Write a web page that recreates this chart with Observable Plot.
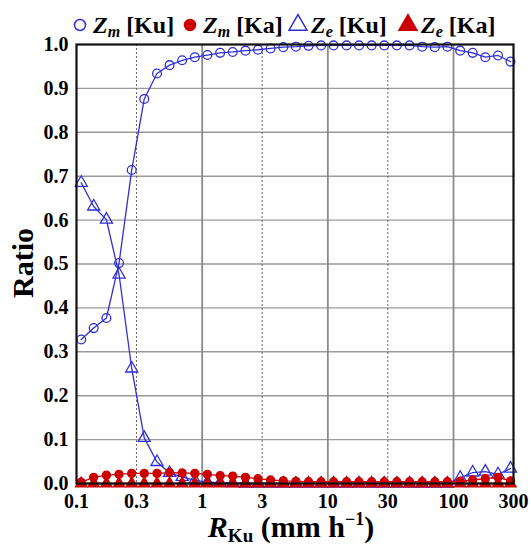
<!DOCTYPE html>
<html>
<head>
<meta charset="utf-8">
<script src="https://cdn.jsdelivr.net/npm/d3@7"></script>
<script src="https://cdn.jsdelivr.net/npm/@observablehq/plot@0.6"></script>
<style>
  body { margin: 0; background: white; }
  #wrap { position: relative; width: 531px; }
  #legend { display: block; position: relative; z-index: 2; overflow: visible; }
  #chart { position: relative; z-index: 1; }
</style>
</head>
<body>
<div id="wrap">
  <svg id="legend" width="531" height="30"></svg>
  <div id="chart"></div>
</div>
<script>
// Rain-rate bins (mm/h, Ku-band retrieval)
const rain = [0.109, 0.137, 0.173, 0.218, 0.275, 0.346, 0.437, 0.550, 0.693, 0.874,
              1.10, 1.39, 1.75, 2.21, 2.78, 3.50, 4.42, 5.57, 7.02, 8.84,
              11.1, 14.1, 17.7, 22.3, 28.1, 35.4, 44.7, 56.3, 71.0, 89.4,
              113, 142, 179, 226, 284];

// Ratio of each regime in every bin
const zmKu = [0.328, 0.354, 0.377, 0.502, 0.714, 0.876, 0.934, 0.953, 0.964, 0.971,
              0.976, 0.981, 0.983, 0.986, 0.988, 0.991, 0.994, 0.995, 0.997, 0.998,
              0.998, 0.998, 0.998, 0.998, 0.998, 0.998, 0.998, 0.995, 0.994, 0.995,
              0.986, 0.981, 0.971, 0.975, 0.961];
const zmKa = [0.003, 0.014, 0.019, 0.021, 0.023, 0.023, 0.023, 0.025, 0.024, 0.023,
              0.021, 0.018, 0.017, 0.014, 0.011, 0.008, 0.006, 0.005, 0.004, 0.004,
              0.004, 0.004, 0.004, 0.004, 0.004, 0.004, 0.004, 0.004, 0.004, 0.004,
              0.005, 0.008, 0.011, 0.014, 0.006];
const zeKu = [0.685, 0.631, 0.601, 0.476, 0.262, 0.104, 0.049, 0.024, 0.015, 0.007,
              0.003, 0.002, 0.001, 0, 0, 0, 0, 0, 0, 0,
              0, 0, 0, 0, 0, 0, 0, 0, 0, 0,
              0.013, 0.025, 0.027, 0.021, 0.034];
const zeKa = [0, 0, 0, 0, 0, 0, 0, 0, 0, 0,
              0, 0, 0, 0, 0, 0, 0, 0, 0, 0,
              0, 0, 0, 0, 0, 0, 0, 0, 0, 0,
              0, 0, 0, 0, 0];

const xTicks = [0.1, 0.3, 1, 3, 10, 30, 100, 300];
const xTickLabels = ["0.1", "0.3", "1", "3", "10", "30", "100", "300"];
const xMajor = [1, 10, 100];
const xMinor = [0.3, 3, 30];
const yTicks = [0, 0.1, 0.2, 0.3, 0.4, 0.5, 0.6, 0.7, 0.8, 0.9, 1.0];

const blue = "#2f2fd8";
const red = "#cc0000";
const serif = "Liberation Serif";

const series = [
  {key: "zmKu", values: zmKu, color: blue, symbol: "circle",   filled: false, r: 4.4, sub: "m", band: "Ku"},
  {key: "zmKa", values: zmKa, color: red,  symbol: "circle",   filled: true,  r: 4.0, sub: "m", band: "Ka"},
  {key: "zeKu", values: zeKu, color: blue, symbol: "triangle", filled: false, r: 4.5, sub: "e", band: "Ku"},
  {key: "zeKa", values: zeKa, color: red,  symbol: "triangle", filled: true,  r: 4.2, sub: "e", band: "Ka"}
];

const rowsOf = s => rain.map((x, i) => ({x, y: s.values[i]}));
const xLabelRows = xTicks.map((v, i) => ({v, label: xTickLabels[i]}));

const marks = [
  Plot.gridY(yTicks.slice(1, -1), {stroke: "#9a9a9a", strokeOpacity: 1, strokeWidth: 1.4}),
  Plot.gridX(xMajor, {stroke: "#8a8a8a", strokeOpacity: 1, strokeWidth: 1.8}),
  Plot.gridX(xMinor, {stroke: "#555", strokeOpacity: 1, strokeWidth: 0.9, strokeDasharray: "2,2"}),
  // x tick labels
  Plot.text(xLabelRows, {x: "v", text: "label", frameAnchor: "bottom", dy: 24,
    fontFamily: serif, fontWeight: "bold", fontSize: 20, fill: "black"}),
  Plot.axisY(yTicks, {tickSize: 0, tickPadding: 8, fontSize: 20, fontWeight: "bold",
    fontFamily: serif, fill: "black", tickFormat: d3.format(".1f"), label: null})
];

// Blue series underneath, red series on top
for (const s of [series[0], series[2], series[1], series[3]]) {
  const rows = rowsOf(s);
  marks.push(Plot.line(rows, {x: "x", y: "y", stroke: s.color, strokeWidth: 1.3}));
  marks.push(Plot.dot(rows, {
    x: "x", y: "y", symbol: s.symbol, r: s.r,
    stroke: s.color, strokeWidth: 1.3,
    fill: s.filled ? s.color : "none"
  }));
}
marks.push(Plot.frame({stroke: "#111", strokeWidth: 2.2}));

const chart = Plot.plot({
  width: 531,
  height: 517,
  marginLeft: 76,
  marginRight: 18,
  marginTop: 14,
  marginBottom: 64,
  style: {background: "transparent"},
  x: {type: "log", domain: [0.1, 300], axis: null},
  y: {domain: [0, 1]},
  marks
});

// Axis titles with sub/superscripts
const svg = d3.select(chart);
const xt = svg.append("text")
  .attr("x", 291).attr("y", 507)
  .attr("text-anchor", "middle")
  .attr("font-family", serif).attr("font-weight", "bold").attr("font-size", 30)
  .attr("fill", "black");
xt.append("tspan").attr("font-style", "italic").text("R");
xt.append("tspan").attr("font-size", 19).attr("dy", 5).text("Ku");
xt.append("tspan").attr("dy", -5).text(" (mm h");
xt.append("tspan").attr("font-size", 18).attr("dy", -12).text("−1");
xt.append("tspan").attr("dy", 12).text(")");

svg.append("text")
  .attr("transform", "translate(33,233) rotate(-90)")
  .attr("text-anchor", "middle")
  .attr("font-family", serif).attr("font-weight", "bold").attr("font-size", 30)
  .attr("fill", "black")
  .text("Ratio");

document.getElementById("chart").appendChild(chart);

// Legend row above the plot
const legend = d3.select("#legend");
const legendX = [80, 190, 298, 408];
series.forEach((s, i) => {
  const cx = legendX[i];
  const isCircle = s.symbol === "circle";
  legend.append("path")
    .attr("transform", `translate(${cx},25)`)
    .attr("d", d3.symbol(isCircle ? d3.symbolCircle : d3.symbolTriangle, isCircle ? 95 : 140)())
    .attr("fill", s.filled ? s.color : "none")
    .attr("stroke", s.color).attr("stroke-width", 1.5);
  const t = legend.append("text")
    .attr("x", cx + 13).attr("y", 33)
    .attr("font-family", serif).attr("font-weight", "bold").attr("font-size", 24)
    .attr("fill", "black");
  t.append("tspan").attr("font-style", "italic").text("Z");
  t.append("tspan").attr("font-style", "italic").attr("font-size", 16).attr("dy", 4).text(s.sub);
  t.append("tspan").attr("dy", -4).text(` [${s.band}]`);
});
</script>
</body>
</html>
